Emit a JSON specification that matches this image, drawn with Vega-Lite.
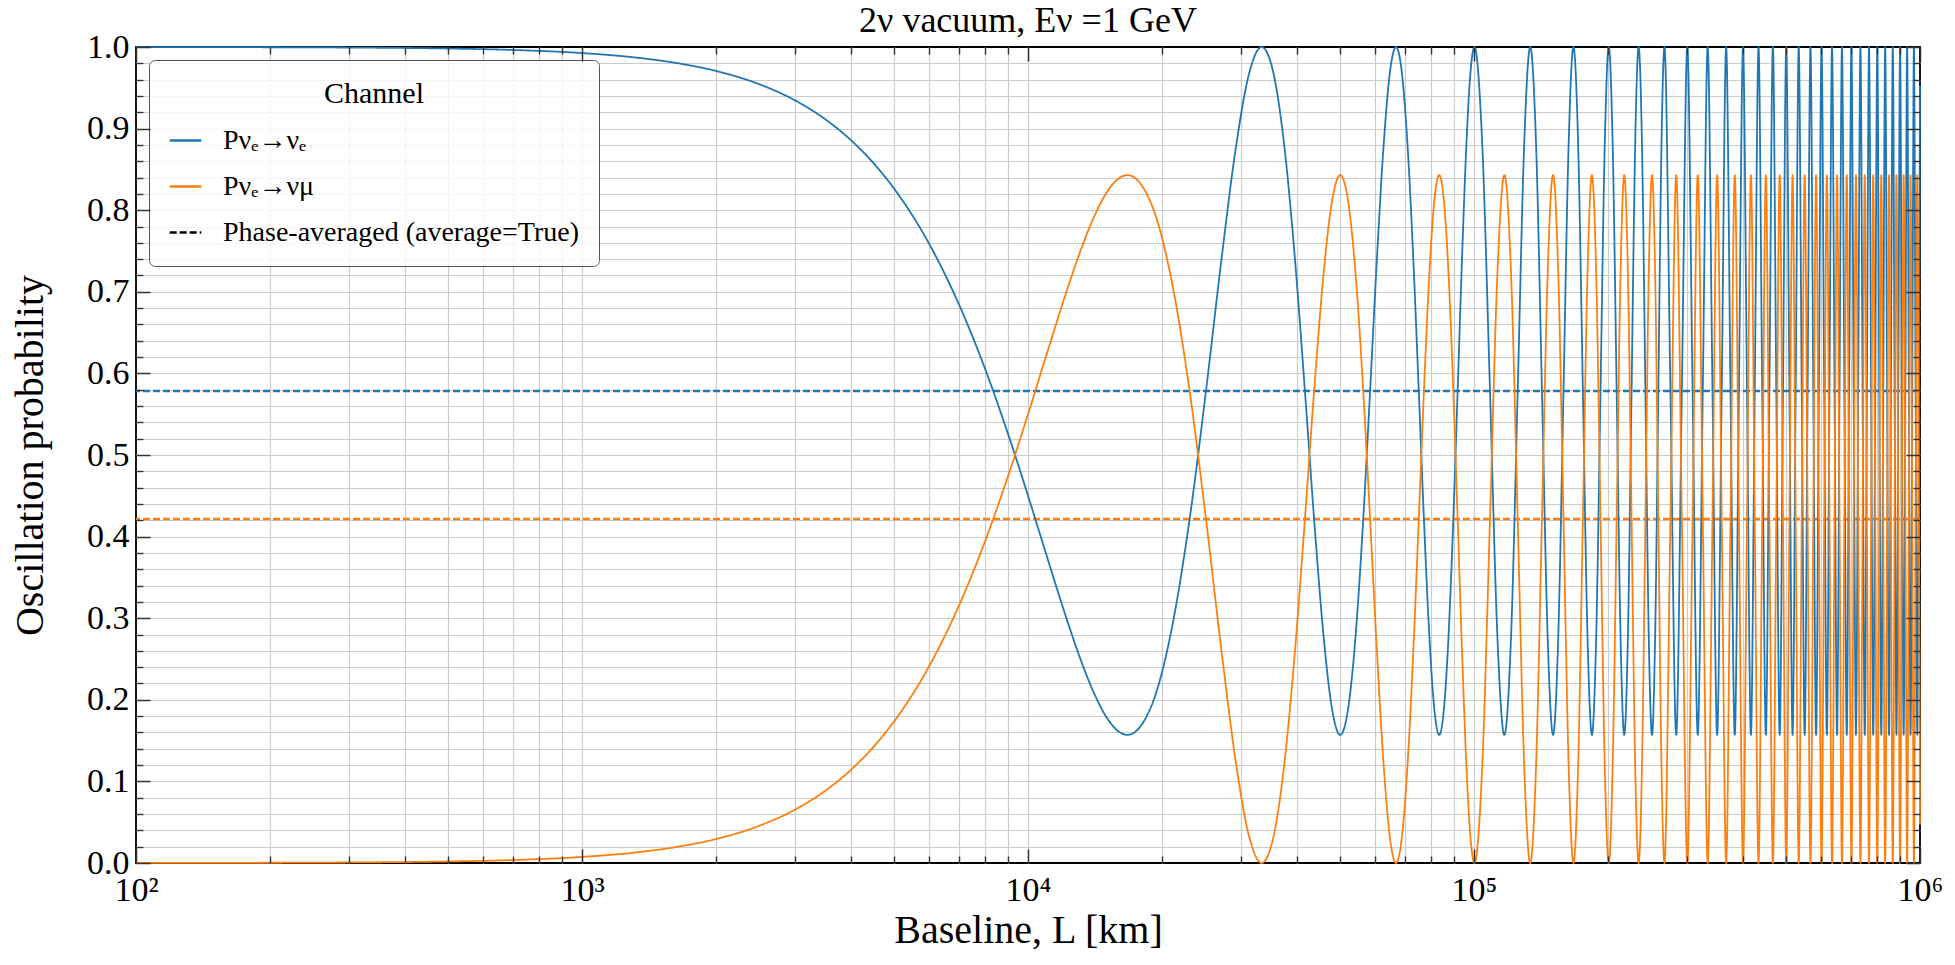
{
  "$schema": "https://vega.github.io/schema/vega-lite/v6.json",
  "width": 1784,
  "height": 816,
  "autosize": {"type": "none"},
  "padding": {"left": 136, "top": 47, "right": 35, "bottom": 102},
  "title": {"text": "2ν vacuum, Eν =1 GeV", "fontSize": 36, "fontWeight": "normal", "anchor": "middle", "baseline": "alphabetic", "offset": 11, "dy": 49, "color": "#000"},
  "data": {
    "values": [
      {"L": 100, "ee": 0.99993, "em": 0.00007},
      {"L": 200, "ee": 0.9997, "em": 0.0003},
      {"L": 300, "ee": 0.99933, "em": 0.00067},
      {"L": 500, "ee": 0.99814, "em": 0.00186},
      {"L": 700, "ee": 0.99636, "em": 0.00364},
      {"L": 1000, "ee": 0.99257, "em": 0.00743},
      {"L": 1300, "ee": 0.98747, "em": 0.01253},
      {"L": 1600, "ee": 0.98107, "em": 0.01893},
      {"L": 2000, "ee": 0.97055, "em": 0.02945},
      {"L": 2500, "ee": 0.95429, "em": 0.04571},
      {"L": 3000, "ee": 0.93471, "em": 0.06529},
      {"L": 3500, "ee": 0.91198, "em": 0.08802},
      {"L": 4000, "ee": 0.88631, "em": 0.11369},
      {"L": 4500, "ee": 0.85792, "em": 0.14208},
      {"L": 5000, "ee": 0.82706, "em": 0.17294},
      {"L": 6000, "ee": 0.75905, "em": 0.24095},
      {"L": 7000, "ee": 0.68468, "em": 0.31532},
      {"L": 8000, "ee": 0.60657, "em": 0.39343},
      {"L": 9000, "ee": 0.52746, "em": 0.47254},
      {"L": 10000, "ee": 0.45016, "em": 0.54984},
      {"L": 11000, "ee": 0.37738, "em": 0.62262},
      {"L": 12000, "ee": 0.31169, "em": 0.68831},
      {"L": 13000, "ee": 0.2554, "em": 0.7446},
      {"L": 14000, "ee": 0.2105, "em": 0.7895},
      {"L": 15000, "ee": 0.17857, "em": 0.82143},
      {"L": 16000, "ee": 0.16074, "em": 0.83926},
      {"L": 16709, "ee": 0.157, "em": 0.843},
      {"L": 18798, "ee": 0.1891, "em": 0.8109},
      {"L": 20886, "ee": 0.2805, "em": 0.7195},
      {"L": 22975, "ee": 0.4172, "em": 0.5828},
      {"L": 25064, "ee": 0.5785, "em": 0.4215},
      {"L": 27152, "ee": 0.7398, "em": 0.2602},
      {"L": 29241, "ee": 0.8765, "em": 0.1235},
      {"L": 31329, "ee": 0.9679, "em": 0.0321},
      {"L": 33418, "ee": 1, "em": 0},
      {"L": 35507, "ee": 0.9679, "em": 0.0321},
      {"L": 37595, "ee": 0.8765, "em": 0.1235},
      {"L": 39684, "ee": 0.7398, "em": 0.2602},
      {"L": 41773, "ee": 0.5785, "em": 0.4215},
      {"L": 43861, "ee": 0.4172, "em": 0.5828},
      {"L": 45950, "ee": 0.2805, "em": 0.7195},
      {"L": 48038, "ee": 0.1891, "em": 0.8109},
      {"L": 50127, "ee": 0.157, "em": 0.843},
      {"L": 52216, "ee": 0.1891, "em": 0.8109},
      {"L": 54304, "ee": 0.2805, "em": 0.7195},
      {"L": 56393, "ee": 0.4172, "em": 0.5828},
      {"L": 58482, "ee": 0.5785, "em": 0.4215},
      {"L": 60570, "ee": 0.7398, "em": 0.2602},
      {"L": 62659, "ee": 0.8765, "em": 0.1235},
      {"L": 64747, "ee": 0.9679, "em": 0.0321},
      {"L": 66836, "ee": 1, "em": 0},
      {"L": 68925, "ee": 0.9679, "em": 0.0321},
      {"L": 71013, "ee": 0.8765, "em": 0.1235},
      {"L": 73102, "ee": 0.7398, "em": 0.2602},
      {"L": 75191, "ee": 0.5785, "em": 0.4215},
      {"L": 77279, "ee": 0.4172, "em": 0.5828},
      {"L": 79368, "ee": 0.2805, "em": 0.7195},
      {"L": 81456, "ee": 0.1891, "em": 0.8109},
      {"L": 83545, "ee": 0.157, "em": 0.843},
      {"L": 85634, "ee": 0.1891, "em": 0.8109},
      {"L": 87722, "ee": 0.2805, "em": 0.7195},
      {"L": 89811, "ee": 0.4172, "em": 0.5828},
      {"L": 91900, "ee": 0.5785, "em": 0.4215},
      {"L": 93988, "ee": 0.7398, "em": 0.2602},
      {"L": 96077, "ee": 0.8765, "em": 0.1235},
      {"L": 98165, "ee": 0.9679, "em": 0.0321},
      {"L": 100254, "ee": 1, "em": 0},
      {"L": 104431, "ee": 0.8765, "em": 0.1235},
      {"L": 108609, "ee": 0.5785, "em": 0.4215},
      {"L": 112786, "ee": 0.2805, "em": 0.7195},
      {"L": 116963, "ee": 0.157, "em": 0.843},
      {"L": 121140, "ee": 0.2805, "em": 0.7195},
      {"L": 125318, "ee": 0.5785, "em": 0.4215},
      {"L": 129495, "ee": 0.8765, "em": 0.1235},
      {"L": 133672, "ee": 1, "em": 0},
      {"L": 137849, "ee": 0.8765, "em": 0.1235},
      {"L": 142027, "ee": 0.5785, "em": 0.4215},
      {"L": 146204, "ee": 0.2805, "em": 0.7195},
      {"L": 150381, "ee": 0.157, "em": 0.843},
      {"L": 154558, "ee": 0.2805, "em": 0.7195},
      {"L": 158736, "ee": 0.5785, "em": 0.4215},
      {"L": 162913, "ee": 0.8765, "em": 0.1235},
      {"L": 167090, "ee": 1, "em": 0},
      {"L": 171267, "ee": 0.8765, "em": 0.1235},
      {"L": 175445, "ee": 0.5785, "em": 0.4215},
      {"L": 179622, "ee": 0.2805, "em": 0.7195},
      {"L": 183799, "ee": 0.157, "em": 0.843},
      {"L": 187976, "ee": 0.2805, "em": 0.7195},
      {"L": 192154, "ee": 0.5785, "em": 0.4215},
      {"L": 196331, "ee": 0.8765, "em": 0.1235},
      {"L": 200508, "ee": 1, "em": 0},
      {"L": 204685, "ee": 0.8765, "em": 0.1235},
      {"L": 208863, "ee": 0.5785, "em": 0.4215},
      {"L": 213040, "ee": 0.2805, "em": 0.7195},
      {"L": 217217, "ee": 0.157, "em": 0.843},
      {"L": 221394, "ee": 0.2805, "em": 0.7195},
      {"L": 225572, "ee": 0.5785, "em": 0.4215},
      {"L": 229749, "ee": 0.8765, "em": 0.1235},
      {"L": 233926, "ee": 1, "em": 0},
      {"L": 238103, "ee": 0.8765, "em": 0.1235},
      {"L": 242281, "ee": 0.5785, "em": 0.4215},
      {"L": 246458, "ee": 0.2805, "em": 0.7195},
      {"L": 250635, "ee": 0.157, "em": 0.843},
      {"L": 254812, "ee": 0.2805, "em": 0.7195},
      {"L": 258990, "ee": 0.5785, "em": 0.4215},
      {"L": 263167, "ee": 0.8765, "em": 0.1235},
      {"L": 267344, "ee": 1, "em": 0},
      {"L": 275698.5, "ee": 0.5785, "em": 0.4215},
      {"L": 284053, "ee": 0.157, "em": 0.843},
      {"L": 292407.5, "ee": 0.5785, "em": 0.4215},
      {"L": 300762, "ee": 1, "em": 0},
      {"L": 309116.5, "ee": 0.5785, "em": 0.4215},
      {"L": 317471, "ee": 0.157, "em": 0.843},
      {"L": 325825.5, "ee": 0.5785, "em": 0.4215},
      {"L": 334180, "ee": 1, "em": 0},
      {"L": 342534.5, "ee": 0.5785, "em": 0.4215},
      {"L": 350889, "ee": 0.157, "em": 0.843},
      {"L": 359243.5, "ee": 0.5785, "em": 0.4215},
      {"L": 367598, "ee": 1, "em": 0},
      {"L": 375952.5, "ee": 0.5785, "em": 0.4215},
      {"L": 384307, "ee": 0.157, "em": 0.843},
      {"L": 392661.5, "ee": 0.5785, "em": 0.4215},
      {"L": 401016, "ee": 1, "em": 0},
      {"L": 409370.5, "ee": 0.5785, "em": 0.4215},
      {"L": 417725, "ee": 0.157, "em": 0.843},
      {"L": 426079.5, "ee": 0.5785, "em": 0.4215},
      {"L": 434434, "ee": 1, "em": 0},
      {"L": 442788.5, "ee": 0.5785, "em": 0.4215},
      {"L": 451143, "ee": 0.157, "em": 0.843},
      {"L": 459497.5, "ee": 0.5785, "em": 0.4215},
      {"L": 467852, "ee": 1, "em": 0},
      {"L": 476206.5, "ee": 0.5785, "em": 0.4215},
      {"L": 484561, "ee": 0.157, "em": 0.843},
      {"L": 492915.5, "ee": 0.5785, "em": 0.4215},
      {"L": 501270, "ee": 1, "em": 0},
      {"L": 509624.5, "ee": 0.5785, "em": 0.4215},
      {"L": 517979, "ee": 0.157, "em": 0.843},
      {"L": 526333.5, "ee": 0.5785, "em": 0.4215},
      {"L": 534688, "ee": 1, "em": 0},
      {"L": 543042.5, "ee": 0.5785, "em": 0.4215},
      {"L": 551397, "ee": 0.157, "em": 0.843},
      {"L": 559751.5, "ee": 0.5785, "em": 0.4215},
      {"L": 568106, "ee": 1, "em": 0},
      {"L": 576460.5, "ee": 0.5785, "em": 0.4215},
      {"L": 584815, "ee": 0.157, "em": 0.843},
      {"L": 593169.5, "ee": 0.5785, "em": 0.4215},
      {"L": 601524, "ee": 1, "em": 0},
      {"L": 609878.5, "ee": 0.5785, "em": 0.4215},
      {"L": 618233, "ee": 0.157, "em": 0.843},
      {"L": 626587.5, "ee": 0.5785, "em": 0.4215},
      {"L": 634942, "ee": 1, "em": 0},
      {"L": 643296.5, "ee": 0.5785, "em": 0.4215},
      {"L": 651651, "ee": 0.157, "em": 0.843},
      {"L": 660005.5, "ee": 0.5785, "em": 0.4215},
      {"L": 668360, "ee": 1, "em": 0},
      {"L": 676714.5, "ee": 0.5785, "em": 0.4215},
      {"L": 685069, "ee": 0.157, "em": 0.843},
      {"L": 693423.5, "ee": 0.5785, "em": 0.4215},
      {"L": 701778, "ee": 1, "em": 0},
      {"L": 710132.5, "ee": 0.5785, "em": 0.4215},
      {"L": 718487, "ee": 0.157, "em": 0.843},
      {"L": 726841.5, "ee": 0.5785, "em": 0.4215},
      {"L": 735196, "ee": 1, "em": 0},
      {"L": 743550.5, "ee": 0.5785, "em": 0.4215},
      {"L": 751905, "ee": 0.157, "em": 0.843},
      {"L": 760259.5, "ee": 0.5785, "em": 0.4215},
      {"L": 768614, "ee": 1, "em": 0},
      {"L": 776968.5, "ee": 0.5785, "em": 0.4215},
      {"L": 785323, "ee": 0.157, "em": 0.843},
      {"L": 793677.5, "ee": 0.5785, "em": 0.4215},
      {"L": 802032, "ee": 1, "em": 0},
      {"L": 810386.5, "ee": 0.5785, "em": 0.4215},
      {"L": 818741, "ee": 0.157, "em": 0.843},
      {"L": 827095.5, "ee": 0.5785, "em": 0.4215},
      {"L": 835450, "ee": 1, "em": 0},
      {"L": 843804.5, "ee": 0.5785, "em": 0.4215},
      {"L": 852159, "ee": 0.157, "em": 0.843},
      {"L": 860513.5, "ee": 0.5785, "em": 0.4215},
      {"L": 868868, "ee": 1, "em": 0},
      {"L": 877222.5, "ee": 0.5785, "em": 0.4215},
      {"L": 885577, "ee": 0.157, "em": 0.843},
      {"L": 893931.5, "ee": 0.5785, "em": 0.4215},
      {"L": 902286, "ee": 1, "em": 0},
      {"L": 910640.5, "ee": 0.5785, "em": 0.4215},
      {"L": 918995, "ee": 0.157, "em": 0.843},
      {"L": 927349.5, "ee": 0.5785, "em": 0.4215},
      {"L": 935704, "ee": 1, "em": 0},
      {"L": 944058.5, "ee": 0.5785, "em": 0.4215},
      {"L": 952413, "ee": 0.157, "em": 0.843},
      {"L": 960767.5, "ee": 0.5785, "em": 0.4215},
      {"L": 969122, "ee": 1, "em": 0},
      {"L": 977476.5, "ee": 0.5785, "em": 0.4215},
      {"L": 985831, "ee": 0.157, "em": 0.843},
      {"L": 994185.5, "ee": 0.5785, "em": 0.4215},
      {"L": 1000000, "ee": 0.9529, "em": 0.0471}
    ]
  },
  "layer": [
    {
      "mark": {"type": "point", "opacity": 0},
      "encoding": {
        "x": {
          "field": "L", "type": "quantitative",
          "scale": {"type": "log", "domain": [100, 1000000], "nice": false},
          "axis": {
            "orient": "bottom", "title": null, "labels": false, "ticks": false, "domain": false,
            "grid": true, "gridColor": "#cccccc", "gridWidth": 1.2, "zindex": 0,
            "values": [200, 300, 400, 500, 600, 700, 800, 900, 1000, 2000, 3000, 4000, 5000, 6000, 7000, 8000, 9000, 10000, 20000, 30000, 40000, 50000, 60000, 70000, 80000, 90000, 100000, 200000, 300000, 400000, 500000, 600000, 700000, 800000, 900000]
          }
        },
        "y": {
          "field": "ee", "type": "quantitative",
          "scale": {"domain": [0, 1], "nice": false, "zero": false},
          "axis": {
            "orient": "left", "title": null, "labels": false, "ticks": false, "domain": false,
            "grid": true, "gridColor": "#cccccc", "gridWidth": 1.2, "zindex": 0,
            "values": [0.02, 0.04, 0.06, 0.08, 0.1, 0.12, 0.14, 0.16, 0.18, 0.2, 0.22, 0.24, 0.26, 0.28, 0.3, 0.32, 0.34, 0.36, 0.38, 0.4, 0.42, 0.44, 0.46, 0.48, 0.5, 0.52, 0.54, 0.56, 0.58, 0.6, 0.62, 0.64, 0.66, 0.68, 0.7, 0.72, 0.74, 0.76, 0.78, 0.8, 0.82, 0.84, 0.86, 0.88, 0.9, 0.92, 0.94, 0.96, 0.98]
          }
        }
      }
    },
    {
      "data": {"values": [{"ch": "ee", "avg": 0.5785}, {"ch": "em", "avg": 0.4215}]},
      "mark": {"type": "rule", "strokeWidth": 2.4, "strokeDash": [7, 3]},
      "encoding": {
        "y": {
          "field": "avg", "type": "quantitative",
          "scale": {"domain": [0, 1], "nice": false, "zero": false},
          "axis": {
            "orient": "left", "title": null, "labels": false, "domain": false, "grid": false,
            "tickSize": -7, "tickWidth": 1.4, "tickColor": "#333333", "zindex": 2,
            "values": [0.02, 0.04, 0.06, 0.08, 0.12, 0.14, 0.16, 0.18, 0.22, 0.24, 0.26, 0.28, 0.32, 0.34, 0.36, 0.38, 0.42, 0.44, 0.46, 0.48, 0.52, 0.54, 0.56, 0.58, 0.62, 0.64, 0.66, 0.68, 0.72, 0.74, 0.76, 0.78, 0.82, 0.84, 0.86, 0.88, 0.92, 0.94, 0.96, 0.98]
          }
        },
        "color": {
          "field": "ch", "type": "nominal",
          "scale": {"domain": ["ee", "em", "avg"], "range": ["#1f77b4", "#ff7f0e", "#000000"]},
          "legend": {
            "title": "Channel", "orient": "none", "legendX": 13, "legendY": 13, "padding": 19,
            "fillColor": "rgba(255,255,255,0.8)", "strokeColor": "#555555", "cornerRadius": 6,
            "titleFont": "Liberation Serif", "titleFontSize": 30, "titleFontWeight": "normal", "titleColor": "#000", "titleAnchor": "middle", "titlePadding": 14,
            "labelFont": "Liberation Serif", "labelFontSize": 28, "labelColor": "#000", "labelOffset": 20, "labelLimit": 600,
            "labelExpr": "datum.label == 'ee' ? 'Pνₑ→νₑ' : datum.label == 'em' ? 'Pνₑ→νμ' : 'Phase-averaged (average=True)'",
            "symbolType": "stroke", "symbolSize": 1000, "symbolStrokeWidth": 2.5, "rowPadding": 14
          }
        }
      }
    },
    {
      "transform": [{"fold": ["ee", "em"], "as": ["ch", "P"]}],
      "mark": {"type": "line", "strokeWidth": 1.8, "interpolate": "monotone"},
      "encoding": {
        "x": {
          "field": "L", "type": "quantitative",
          "scale": {"type": "log", "domain": [100, 1000000], "nice": false},
          "axis": {
            "orient": "bottom", "values": [100, 1000, 10000, 100000, 1000000],
            "labelExpr": "datum.value == 100 ? '10²' : datum.value == 1000 ? '10³' : datum.value == 10000 ? '10⁴' : datum.value == 100000 ? '10⁵' : '10⁶'",
            "labelFontSize": 34, "labelColor": "#000", "labelPadding": 24, "labelFlush": false, "labelOverlap": false,
            "tickSize": -14, "tickWidth": 1.5, "tickColor": "#333333", "grid": false, "domain": false, "zindex": 2,
            "title": "Baseline, L [km]", "titleFontSize": 40, "titleFontWeight": "normal", "titleColor": "#000",
            "titleX": 892, "titleY": 79, "titleBaseline": "alphabetic", "titleAlign": "center"
          }
        },
        "y": {
          "field": "P", "type": "quantitative",
          "scale": {"domain": [0, 1], "nice": false, "zero": false},
          "axis": {
            "orient": "left", "values": [0, 0.1, 0.2, 0.3, 0.4, 0.5, 0.6, 0.7, 0.8, 0.9, 1], "format": ".1f",
            "labelFontSize": 34, "labelColor": "#000", "labelPadding": 21, "labelFlush": false, "labelOverlap": false,
            "tickSize": -14, "tickWidth": 1.5, "tickColor": "#333333", "grid": false, "domain": false, "zindex": 2,
            "title": "Oscillation probability", "titleFontSize": 40, "titleFontWeight": "normal", "titleColor": "#000",
            "titleX": -94, "titleY": 408, "titleAngle": -90, "titleBaseline": "alphabetic", "titleAlign": "center"
          }
        },
        "color": {
          "field": "ch", "type": "nominal",
          "scale": {"domain": ["ee", "em", "avg"], "range": ["#1f77b4", "#ff7f0e", "#000000"]},
          "legend": {
            "title": "Channel", "orient": "none", "legendX": 13, "legendY": 13, "padding": 19,
            "fillColor": "rgba(255,255,255,0.8)", "strokeColor": "#555555", "cornerRadius": 6,
            "titleFont": "Liberation Serif", "titleFontSize": 30, "titleFontWeight": "normal", "titleColor": "#000", "titleAnchor": "middle", "titlePadding": 14,
            "labelFont": "Liberation Serif", "labelFontSize": 28, "labelColor": "#000", "labelOffset": 20, "labelLimit": 600,
            "labelExpr": "datum.label == 'ee' ? 'Pνₑ→νₑ' : datum.label == 'em' ? 'Pνₑ→νμ' : 'Phase-averaged (average=True)'",
            "symbolType": "stroke", "symbolSize": 1000, "symbolStrokeWidth": 2.5, "rowPadding": 14
          }
        },
        "strokeDash": {
          "field": "ch", "type": "nominal",
          "scale": {"domain": ["ee", "em", "avg"], "range": [[1, 0], [1, 0], [7, 3]]},
          "legend": {
            "title": "Channel", "orient": "none", "legendX": 13, "legendY": 13, "padding": 19,
            "fillColor": "rgba(255,255,255,0.8)", "strokeColor": "#555555", "cornerRadius": 6,
            "titleFont": "Liberation Serif", "titleFontSize": 30, "titleFontWeight": "normal", "titleColor": "#000", "titleAnchor": "middle", "titlePadding": 14,
            "labelFont": "Liberation Serif", "labelFontSize": 28, "labelColor": "#000", "labelOffset": 20, "labelLimit": 600,
            "labelExpr": "datum.label == 'ee' ? 'Pνₑ→νₑ' : datum.label == 'em' ? 'Pνₑ→νμ' : 'Phase-averaged (average=True)'",
            "symbolType": "stroke", "symbolSize": 1000, "symbolStrokeWidth": 2.5, "rowPadding": 14
          }
        }
      }
    },
    {
      "mark": {"type": "point", "opacity": 0},
      "encoding": {
        "x": {
          "field": "L", "type": "quantitative",
          "scale": {"type": "log", "domain": [100, 1000000], "nice": false},
          "axis": {
            "orient": "bottom", "title": null, "labels": false, "domain": false, "grid": false,
            "tickSize": -7, "tickWidth": 1.4, "tickColor": "#333333", "zindex": 2,
            "values": [200, 300, 400, 500, 600, 700, 800, 900, 2000, 3000, 4000, 5000, 6000, 7000, 8000, 9000, 20000, 30000, 40000, 50000, 60000, 70000, 80000, 90000, 200000, 300000, 400000, 500000, 600000, 700000, 800000, 900000]
          }
        },
        "y": {
          "field": "ee", "type": "quantitative",
          "scale": {"domain": [0, 1], "nice": false, "zero": false},
          "axis": {
            "orient": "right", "title": null, "labels": false, "domain": false, "grid": false,
            "tickSize": -14, "tickWidth": 1.5, "tickColor": "#333333", "zindex": 2,
            "values": [0, 0.1, 0.2, 0.3, 0.4, 0.5, 0.6, 0.7, 0.8, 0.9, 1]
          }
        }
      }
    },
    {
      "mark": {"type": "point", "opacity": 0},
      "encoding": {
        "x": {
          "field": "L", "type": "quantitative",
          "scale": {"type": "log", "domain": [100, 1000000], "nice": false},
          "axis": {
            "orient": "top", "title": null, "labels": false, "domain": false, "grid": false,
            "tickSize": -14, "tickWidth": 1.5, "tickColor": "#333333", "zindex": 2,
            "values": [100, 1000, 10000, 100000, 1000000]
          }
        },
        "y": {
          "field": "ee", "type": "quantitative",
          "scale": {"domain": [0, 1], "nice": false, "zero": false},
          "axis": {
            "orient": "right", "title": null, "labels": false, "domain": false, "grid": false,
            "tickSize": -7, "tickWidth": 1.4, "tickColor": "#333333", "zindex": 2,
            "values": [0.02, 0.04, 0.06, 0.08, 0.12, 0.14, 0.16, 0.18, 0.22, 0.24, 0.26, 0.28, 0.32, 0.34, 0.36, 0.38, 0.42, 0.44, 0.46, 0.48, 0.52, 0.54, 0.56, 0.58, 0.62, 0.64, 0.66, 0.68, 0.72, 0.74, 0.76, 0.78, 0.82, 0.84, 0.86, 0.88, 0.92, 0.94, 0.96, 0.98]
          }
        }
      }
    },
    {
      "mark": {"type": "point", "opacity": 0},
      "encoding": {
        "x": {
          "field": "L", "type": "quantitative",
          "scale": {"type": "log", "domain": [100, 1000000], "nice": false},
          "axis": {
            "orient": "top", "title": null, "labels": false, "domain": false, "grid": false,
            "tickSize": -7, "tickWidth": 1.4, "tickColor": "#333333", "zindex": 2,
            "values": [200, 300, 400, 500, 600, 700, 800, 900, 2000, 3000, 4000, 5000, 6000, 7000, 8000, 9000, 20000, 30000, 40000, 50000, 60000, 70000, 80000, 90000, 200000, 300000, 400000, 500000, 600000, 700000, 800000, 900000]
          }
        },
        "y": {
          "field": "ee", "type": "quantitative",
          "scale": {"domain": [0, 1], "nice": false, "zero": false},
          "axis": null
        }
      }
    }
  ],
  "resolve": {"axis": {"x": "independent", "y": "independent"}},
  "config": {
    "font": "Liberation Serif",
    "view": {"stroke": "#000000", "strokeWidth": 1.8},
    "title": {"color": "#000"}
  }
}
